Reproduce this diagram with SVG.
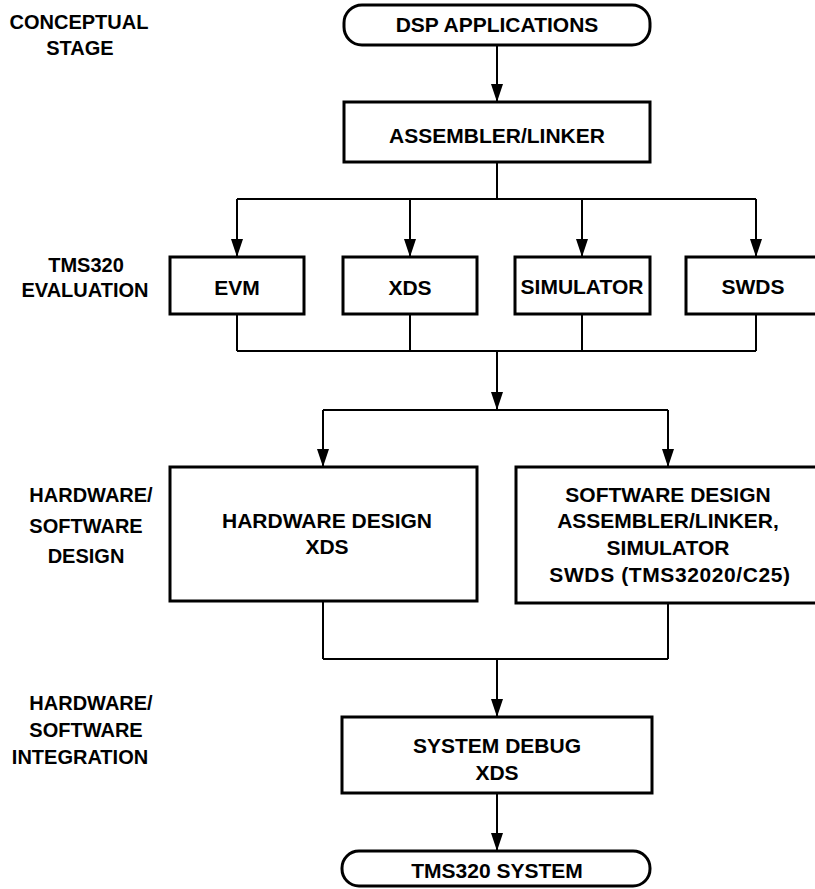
<svg xmlns="http://www.w3.org/2000/svg" width="815" height="889" viewBox="0 0 815 889">
<defs>
<marker id="arr" markerUnits="userSpaceOnUse" markerWidth="18" markerHeight="12" refX="18" refY="6" orient="auto" viewBox="0 0 18 12">
<path d="M0,0 L18,6 L0,12 z" fill="#000"/>
</marker>
<style>
.box{fill:#fff;stroke:#000;stroke-width:3}
.ln{fill:none;stroke:#000;stroke-width:2}
.arr{marker-end:url(#arr)}
text{font-family:"Liberation Sans",Arial,sans-serif;font-weight:bold;font-size:20px;fill:#000;text-anchor:middle}
.bt{font-size:21px}
</style>
</defs>
<rect width="815" height="889" fill="#fff"/>
<g id="labels">
<text x="79" y="29">CONCEPTUAL</text>
<text x="80" y="55">STAGE</text>
<text x="86" y="272">TMS320</text>
<text x="85" y="297">EVALUATION</text>
<text x="91" y="502">HARDWARE/</text>
<text x="86" y="533">SOFTWARE</text>
<text x="86" y="563">DESIGN</text>
<text x="91" y="710">HARDWARE/</text>
<text x="86" y="737">SOFTWARE</text>
<text x="80" y="764">INTEGRATION</text>
</g>
<g id="connectors">
<line class="ln arr" x1="497" y1="45" x2="497" y2="102"/>
<line class="ln" x1="497" y1="162" x2="497" y2="199"/>
<line class="ln" x1="237" y1="199" x2="756" y2="199"/>
<line class="ln arr" x1="237" y1="199" x2="237" y2="257"/>
<line class="ln arr" x1="410" y1="199" x2="410" y2="257"/>
<line class="ln arr" x1="582" y1="199" x2="582" y2="257"/>
<line class="ln arr" x1="756" y1="199" x2="756" y2="257"/>
<line class="ln" x1="237" y1="314" x2="237" y2="351"/>
<line class="ln" x1="410" y1="314" x2="410" y2="351"/>
<line class="ln" x1="582" y1="314" x2="582" y2="351"/>
<line class="ln" x1="756" y1="314" x2="756" y2="351"/>
<line class="ln" x1="237" y1="351" x2="756" y2="351"/>
<line class="ln arr" x1="497" y1="351" x2="497" y2="410"/>
<line class="ln" x1="323" y1="410" x2="668" y2="410"/>
<line class="ln arr" x1="323" y1="410" x2="323" y2="467"/>
<line class="ln arr" x1="668" y1="410" x2="668" y2="467"/>
<line class="ln" x1="323" y1="601" x2="323" y2="659"/>
<line class="ln" x1="668" y1="603" x2="668" y2="659"/>
<line class="ln" x1="323" y1="659" x2="668" y2="659"/>
<line class="ln arr" x1="497" y1="659" x2="497" y2="717"/>
<line class="ln arr" x1="497" y1="793" x2="497" y2="851"/>
</g>
<g id="dsp-applications">
<rect class="box" x="344" y="5" width="306" height="40" rx="18" ry="18"/>
<text class="bt" x="497" y="32">DSP APPLICATIONS</text>
</g>
<g id="assembler-linker">
<rect class="box" x="344" y="102" width="306" height="60"/>
<text class="bt" x="497" y="143">ASSEMBLER/LINKER</text>
</g>
<g id="evm">
<rect class="box" x="170" y="257" width="134" height="57"/>
<text class="bt" x="237" y="295">EVM</text>
</g>
<g id="xds">
<rect class="box" x="343" y="257" width="134" height="57"/>
<text class="bt" x="410" y="295">XDS</text>
</g>
<g id="simulator">
<rect class="box" x="515" y="257" width="135" height="57"/>
<text class="bt" x="582" y="294">SIMULATOR</text>
</g>
<g id="swds">
<rect class="box" x="686" y="257" width="136" height="57"/>
<text class="bt" x="753" y="294">SWDS</text>
</g>
<g id="hardware-design">
<rect class="box" x="170" y="467" width="307" height="134"/>
<text class="bt" x="327" y="528">HARDWARE DESIGN</text>
<text class="bt" x="327" y="554">XDS</text>
</g>
<g id="software-design">
<rect class="box" x="516" y="467" width="306" height="136"/>
<text class="bt" x="668" y="502">SOFTWARE DESIGN</text>
<text class="bt" x="668" y="528">ASSEMBLER/LINKER,</text>
<text class="bt" x="668" y="555">SIMULATOR</text>
<text class="bt" x="670" y="582" letter-spacing="0.6">SWDS (TMS32020/C25)</text>
</g>
<g id="system-debug">
<rect class="box" x="342" y="717" width="310" height="76"/>
<text class="bt" x="497" y="753">SYSTEM DEBUG</text>
<text class="bt" x="497" y="780">XDS</text>
</g>
<g id="tms320-system">
<rect class="box" x="342" y="851" width="308" height="35" rx="17" ry="17"/>
<text class="bt" x="497" y="878">TMS320 SYSTEM</text>
</g>
</svg>
